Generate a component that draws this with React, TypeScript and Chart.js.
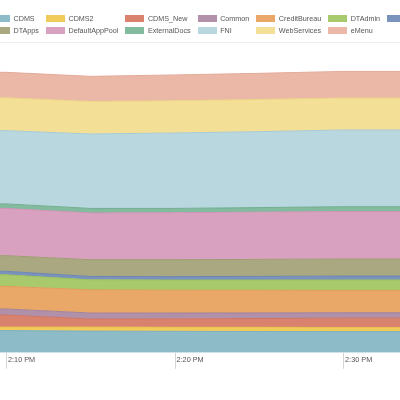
import React, { useEffect, useRef } from "react";
import { Chart, registerables } from "chart.js";

Chart.register(...registerables);

// minutes after 2:00 PM
const times = [5, 10, 15, 20, 25, 30, 35];
const tickValues = [10, 20, 30];
const tickLabels = ["2:10 PM", "2:20 PM", "2:30 PM"];

const seriesNames = [
  "CDMS", "CDMS2", "CDMS_New", "Common", "CreditBureau", "DTAdmin", "DTApi",
  "DTApps", "DefaultAppPool", "ExternalDocs", "FNI", "WebServices", "eMenu",
];

const cdms = [22, 22, 21.5, 21.3, 21.1, 21, 21];
const cdms2 = [3.5, 3.5, 4, 4, 4.2, 4.1, 4.1];
const cdmsNew = [12, 12, 8, 8.4, 8.7, 9.3, 9.3];
const common = [6, 6, 6, 5.8, 5.6, 5.4, 5.4];
const creditBureau = [22.5, 22.5, 23, 22.7, 22.5, 22.2, 22.2];
const dtAdmin = [11.5, 11.5, 10, 10.1, 10.2, 10.4, 10.4];
const dtApi = [3.5, 3.5, 3.3, 3.4, 3.6, 3.8, 3.8];
const dtApps = [15.5, 15.5, 16.7, 16.8, 16.9, 17, 17];
const defaultAppPool = [47, 47, 46.5, 46.7, 47, 47.2, 47.2];
const externalDocs = [4.5, 4.5, 4.5, 4.3, 4.5, 4.8, 4.8];
const fni = [72.8, 72.8, 74, 75, 75.5, 76.3, 76.3];
const webServices = [32.7, 32.7, 32.3, 32, 32, 31.7, 31.7];
const eMenu = [25.3, 25.3, 25, 25.7, 26, 26.5, 26.5];

const seriesValues = [
  cdms, cdms2, cdmsNew, common, creditBureau, dtAdmin, dtApi,
  dtApps, defaultAppPool, externalDocs, fni, webServices, eMenu,
];

const fillColors = [
  "#8dbbc7", "#f1cb5a", "#d9836f", "#b091a9", "#e9a867", "#a8ca6c", "#7a93bd",
  "#aaa880", "#d9a1c0", "#83bb9e", "#b9d7df", "#f3df95", "#ebb8a8",
];
const lineColors = [
  "#7eafbd", "#e9c04a", "#cf7562", "#a4839d", "#e09c59", "#9bbf5e", "#6d86b2",
  "#9e9c72", "#cf94b4", "#72ae90", "#a9cbd5", "#ecd585", "#e3ab9b",
];

// long tick marks running alongside the labels, placed with the x scale
const tickMarks = {
  id: "tickMarks",
  afterDraw(chart: any) {
    const scale = chart.scales.x;
    const ctx = chart.ctx;
    const bottom = chart.chartArea.bottom;
    ctx.save();
    ctx.strokeStyle = "#d4d4d4";
    ctx.lineWidth = 1;
    scale.ticks.forEach((t: any) => {
      const px = Math.round(scale.getPixelForValue(t.value)) + 0.5;
      ctx.beginPath();
      ctx.moveTo(px, bottom);
      ctx.lineTo(px, bottom + 16);
      ctx.stroke();
    });
    ctx.restore();
  },
};

export default function App() {
  const canvasRef = useRef<HTMLCanvasElement | null>(null);

  useEffect(() => {
    const canvas = canvasRef.current;
    if (!canvas) return;
    const chart = new Chart(canvas, {
      type: "line",
      data: {
        datasets: seriesNames.map((name, i) => ({
          label: name,
          data: times.map((t, j) => ({ x: t, y: seriesValues[i][j] })),
          backgroundColor: fillColors[i],
          borderColor: lineColors[i],
          borderWidth: 1,
          pointRadius: 0,
          tension: 0,
          fill: i === 0 ? "origin" : "-1",
        })),
      },
      options: {
        animation: false,
        responsive: false,
        layout: { padding: { top: 51, bottom: 32.5, left: 0, right: 0 } },
        plugins: { legend: { display: false }, tooltip: { enabled: false } },
        scales: {
          x: {
            type: "linear",
            min: 9.644,
            max: 33.38,
            afterBuildTicks: (scale: any) => {
              scale.ticks = tickValues.map((v) => ({ value: v }));
            },
            ticks: {
              callback: (_v: any, index: number) => tickLabels[index],
              align: "start",
              padding: 3,
              labelOffset: 2,
              maxRotation: 0,
              autoSkip: false,
              color: "#555",
              font: { family: "'Liberation Sans', Arial, sans-serif", size: 7.3 },
            },
            grid: { drawOnChartArea: false, drawTicks: false, color: "#d4d4d4" },
            border: { display: false },
          },
          y: { display: false, stacked: true, min: 0, max: 300 },
        },
      },
      plugins: [tickMarks],
    });
    return () => chart.destroy();
  }, []);

  return (
    <div
      style={{
        position: "fixed",
        left: 0,
        top: 0,
        width: 400,
        height: 400,
        overflow: "hidden",
        background: "#fff",
      }}
    >
      <canvas
        ref={canvasRef}
        width={400}
        height={400}
        style={{ position: "absolute", left: 0, top: 0, width: 400, height: 400 }}
      />
      <div
        style={{
          position: "absolute",
          top: 14.5,
          left: -9,
          display: "grid",
          gridTemplateColumns: "repeat(7, max-content)",
          rowGap: 4,
          width: "max-content",
          whiteSpace: "nowrap",
        }}
      >
        {seriesNames.map((name, i) => (
          <div
            key={name}
            style={{ display: "flex", alignItems: "center", height: 8, paddingRight: 7 }}
          >
            <span
              style={{
                display: "inline-block",
                width: 19,
                height: 7,
                background: fillColors[i],
                marginRight: 3.5,
              }}
            />
            <span
              style={{
                font: "7.2px 'Liberation Sans', Arial, sans-serif",
                color: "#555",
                lineHeight: "8px",
              }}
            >
              {name}
            </span>
          </div>
        ))}
      </div>
      <div
        style={{
          position: "absolute",
          top: 42,
          left: 0,
          width: 400,
          height: 1,
          background: "#eeeeee",
        }}
      />
    </div>
  );
}
